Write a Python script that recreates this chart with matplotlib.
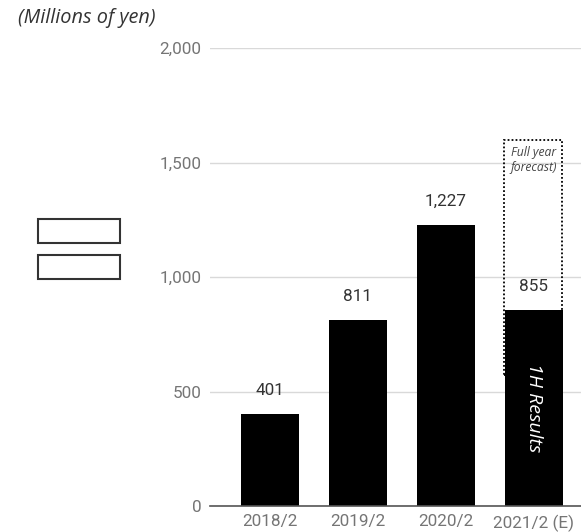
import matplotlib.pyplot as plt
from matplotlib.patches import Rectangle

categories = ["2018/2", "2019/2", "2020/2", "2021/2 (E)"]
values = [401, 811, 1227, 855]
labels = ["401", "811", "1,227", "855"]
forecast_top = 1600
forecast_bottom = 570

plt.rcParams['font.family'] = ['Roboto', 'DejaVu Sans']

fig = plt.figure(figsize=(5.81, 5.32), dpi=100)
W, H = 581, 532
ax = fig.add_axes([210 / W, 26 / H, 371 / W, 458 / H])

x = list(range(len(categories)))
ax.bar(x, values, width=0.66, color='black', zorder=3)

# dotted forecast box behind the last bar
ax.add_patch(Rectangle((3 - 0.34, forecast_bottom), 0.66, forecast_top - forecast_bottom,
                       fill=False, linestyle=(0, (1, 1.2)), linewidth=1.3,
                       edgecolor='black', zorder=2))
ax.text(3, 1512, "Full year\nforecast)", ha='center', va='center', fontsize=8.7,
        style='italic', family='Open Sans', color='#444444', linespacing=1.15, zorder=4)
ax.text(3, 430, "1H Results", ha='center', va='center', rotation=-90, fontsize=14,
        style='italic', family='Open Sans', color='white', zorder=4)

for xi, v, lab in zip(x, values, labels):
    ax.text(xi, v + 70, lab, ha='center', va='bottom', fontsize=12.3, color='#333333', zorder=4)

ax.set_xlim(-0.68, 3.54)
ax.set_ylim(0, 2000)
ax.set_yticks([0, 500, 1000, 1500, 2000])
ax.set_yticklabels(["0", "500", "1,000", "1,500", "2,000"])
ax.set_xticks(x)
ax.set_xticklabels(categories)
ax.tick_params(axis='both', length=0, labelsize=12.3, labelcolor='#757575')
ax.tick_params(axis='y', pad=6)
ax.tick_params(axis='x', pad=6)
ax.grid(axis='y', color='#d9d9d9', linewidth=1, zorder=0)
ax.set_axisbelow(True)
for s in ['top', 'right', 'left']:
    ax.spines[s].set_visible(False)
ax.spines['bottom'].set_color('#555555')
ax.spines['bottom'].set_linewidth(1.2)
ax.spines['bottom'].set_zorder(5)

fig.text(18 / W, 1 - 18 / H, "(Millions of yen)", ha='left', va='center', fontsize=14.3,
         style='italic', family='Open Sans', color='#333333')

# two empty boxes on the left
for top in [219, 255]:
    fig.patches.append(Rectangle((38 / W, 1 - (top + 24) / H), 82 / W, 24 / H,
                                 fill=False, edgecolor='#333333', linewidth=1.5,
                                 transform=fig.transFigure, figure=fig))

fig.savefig("out.png", dpi=100)
